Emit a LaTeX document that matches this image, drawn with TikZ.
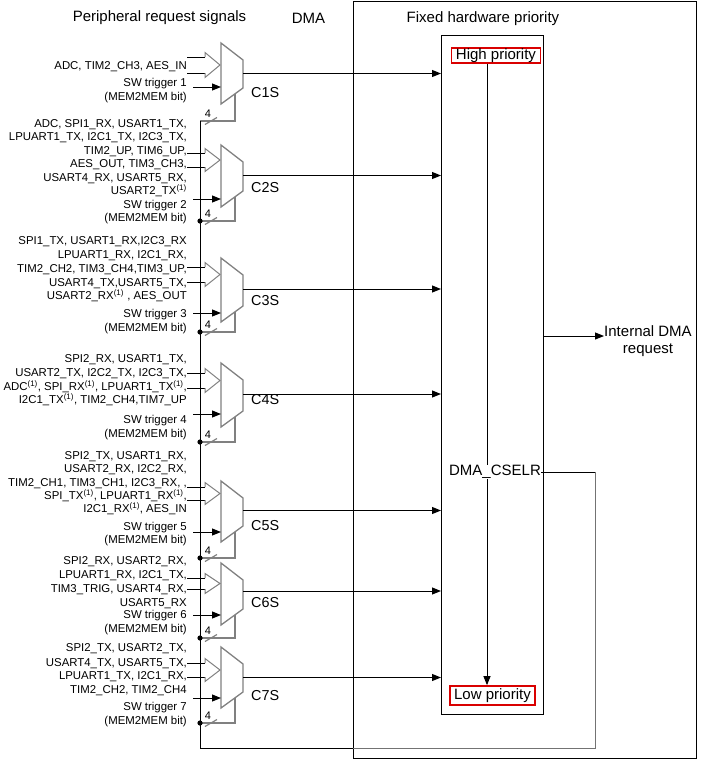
\documentclass[tikz,border=0pt]{standalone}
\usepackage{fontspec}
\setmainfont{Liberation Sans}
\usetikzlibrary{arrows.meta}
\tikzset{
 sig/.style={font=\fontsize{11.4}{13}\selectfont, inner sep=0pt, anchor=base east},
 lbl/.style={font=\fontsize{15}{17}\selectfont, inner sep=0pt},
 muxlbl/.style={font=\fontsize{14.4}{16}\selectfont, inner sep=0pt, anchor=west},
 four/.style={font=\fontsize{11}{12}\selectfont, inner sep=0pt},
 muxbody/.style={draw=black!50, line width=1.3pt},
 selline/.style={draw=black!50, line width=1.2pt},
 wire/.style={draw=black, line width=1pt},
 arr/.style={wire, -{Triangle[length=9pt,width=7pt]}},
 hollow/.style={draw=black!50, line width=1pt},
 prio/.style={draw=red!85!black, line width=1.7pt, font=\fontsize{15}{17}\selectfont},
 boxd/.style={draw=black, line width=1pt, inner sep=0pt, anchor=north west},
}
\newcommand{\muxunit}[9]{%
 \draw[muxbody] (221,#2) -- (243,{#2+17}) -- (243,{#3-16}) -- (221,#3) -- cycle;
 \coordinate (C#1out) at (243,#9);
 \coordinate (C#1sel) at (235,{#3-10.2});
 \coordinate (C#1bus) at (200,#7);
 \coordinate (C#1sw) at (193,#6);
 \coordinate (C#1swin) at (221,#6);
 \draw[wire] (187,#4) -- (205,#4) (187,#5) -- (205,#5);
 \draw[hollow] (205,#4) -- (205,{#4-4.5}) -- (220,{(#4+#5)/2}) -- (205,{#5+4.5}) -- (205,#5);
 \draw[arr] (C#1sw) -- (C#1swin);
 \draw[selline] (C#1sel) |- (C#1bus);
 \draw[selline] (205,{#7+3.5}) -- (217,{#7-3.5});
 \node[four] (C#1four) at (208,{#7-7.5}) {4};
 \draw[arr] (C#1out) -- (C#1out -| inner.west);
 \node[muxlbl] (C#1lbl) at (251,#8) {C#1S};
}
\newcommand{\sig}[3]{\node[sig] (#1) at (187,{#2+4.1}) {#3};}
\begin{document}
\begin{tikzpicture}[x=1pt,y=-1pt]
\useasboundingbox (0,0) rectangle (707,764);

% headers
\node[lbl] (hdrsig) at (159.5,18) {Peripheral request signals};
\node[lbl] (hdrdma) at (308.5,18) {DMA};
\node[lbl] (hdrfix) at (483,19) {Fixed hardware priority};

% boxes
\node[boxd, minimum width=343pt, minimum height=757pt] (outer) at (353,1) {};
\node[boxd, minimum width=102pt, minimum height=679pt] (inner) at (441,35) {};

% priority
\node[prio, inner xsep=4.5pt, inner ysep=0.5pt] (high) at (496,55.3) {High priority};
\node[prio, inner xsep=4pt, inner ysep=2.5pt] (low) at (492.5,695.5) {Low priority};
\coordinate (vx) at (487,0);
\draw[arr] (high.south -| vx) -- (low.north -| vx);
\node[lbl, fill=white] (cselr) at (495,472) {DMA\_CSELR};

% internal request
\node[lbl, align=center] (req) at (648,341.5) {Internal DMA\\request};
\coordinate (reqy) at (0,336);
\draw[arr] (inner.east |- reqy) -- (req.west |- reqy);

% multiplexers
\muxunit{1}{43}{104}{57}{73}{87}{121}{93}{73.5}
\muxunit{2}{145}{207}{153}{167}{199}{221}{188}{175.5}
\muxunit{3}{258}{322}{267}{282}{313}{332}{301}{289}
\muxunit{4}{363}{427}{373}{388}{414}{442}{400}{394}
\muxunit{5}{481}{542}{487}{500}{532}{558}{526}{510.5}
\muxunit{6}{563}{625}{578}{589}{615}{638}{603}{591}
\muxunit{7}{647}{708}{663}{677}{698}{723}{696}{677.5}

% selection bus
\coordinate (busBot) at (200,748);
\coordinate (fbR) at (595,748);
\coordinate (fbT) at (595,472);
\draw[wire] (cselr.east) -- (fbT);
\draw[draw=black!55, line width=1pt] (fbT) -- (fbR) -- (fbR -| outer.west);
\draw[wire] (fbR -| outer.west) -- (busBot) -- (C1bus);
\foreach \k in {2,...,7}{\fill (C\k bus) circle[radius=2.6pt];}

% signal texts
\sig{a1}{65}{ADC, TIM2\_CH3, AES\_IN}
\sig{a2}{82}{SW trigger 1}
\sig{a3}{96}{(MEM2MEM bit)}

\sig{b1}{123}{ADC, SPI1\_RX, USART1\_TX,}
\sig{b2}{136}{LPUART1\_TX, I2C1\_TX, I2C3\_TX,}
\sig{b3}{150}{TIM2\_UP, TIM6\_UP,}
\sig{b4}{163}{AES\_OUT, TIM3\_CH3,}
\sig{b5}{177}{USART4\_RX, USART5\_RX,}
\sig{b6}{190}{USART2\_TX\textsuperscript{(1)}}
\sig{b7}{204}{SW trigger 2}
\sig{b8}{217}{(MEM2MEM bit)}

\sig{c1}{240}{SPI1\_TX, USART1\_RX,I2C3\_RX}
\sig{c2}{254}{LPUART1\_RX, I2C1\_RX,}
\sig{c3}{268}{TIM2\_CH2, TIM3\_CH4,TIM3\_UP,}
\sig{c4}{282}{USART4\_TX,USART5\_TX,}
\sig{c5}{295}{USART2\_RX\textsuperscript{(1)} , AES\_OUT}
\sig{c6}{313}{SW trigger 3}
\sig{c7}{327}{(MEM2MEM bit)}

\sig{d1}{358}{SPI2\_RX, USART1\_TX,}
\sig{d2}{372}{USART2\_TX, I2C2\_TX, I2C3\_TX,}
\sig{d3}{386}{ADC\textsuperscript{(1)}, SPI\_RX\textsuperscript{(1)}, LPUART1\_TX\textsuperscript{(1)},}
\sig{d4}{399}{I2C1\_TX\textsuperscript{(1)}, TIM2\_CH4,TIM7\_UP}
\sig{d5}{419}{SW trigger 4}
\sig{d6}{433}{(MEM2MEM bit)}

\sig{e1}{455}{SPI2\_TX, USART1\_RX,}
\sig{e2}{468}{USART2\_RX, I2C2\_RX,}
\sig{e3}{482}{TIM2\_CH1, TIM3\_CH1, I2C3\_RX, ,}
\sig{e4}{495}{SPI\_TX\textsuperscript{(1)}, LPUART1\_RX\textsuperscript{(1)},}
\sig{e5}{508}{I2C1\_RX\textsuperscript{(1)}, AES\_IN}
\sig{e6}{526}{SW trigger 5}
\sig{e7}{539}{(MEM2MEM bit)}

\sig{f1}{560}{SPI2\_RX, USART2\_RX,}
\sig{f2}{574}{LPUART1\_RX, I2C1\_TX,}
\sig{f3}{588}{TIM3\_TRIG, USART4\_RX,}
\sig{f4}{602}{USART5\_RX}
\sig{f5}{614}{SW trigger 6}
\sig{f6}{628}{(MEM2MEM bit)}

\sig{g1}{647}{SPI2\_TX, USART2\_TX,}
\sig{g2}{662}{USART4\_TX, USART5\_TX,}
\sig{g3}{675}{LPUART1\_TX, I2C1\_RX,}
\sig{g4}{689}{TIM2\_CH2, TIM2\_CH4}
\sig{g5}{706}{SW trigger 7}
\sig{g6}{720}{(MEM2MEM bit)}
\end{tikzpicture}
\end{document}
